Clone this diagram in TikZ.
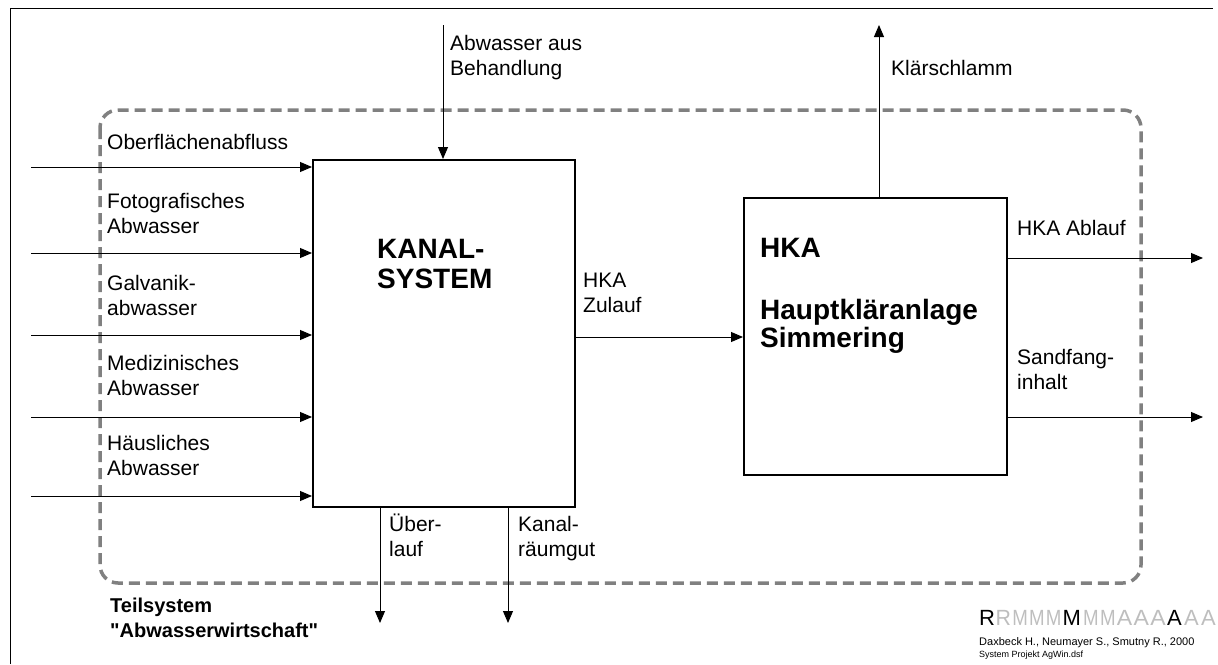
\documentclass[tikz,border=0pt]{standalone}
\usepackage{fontspec}
\setmainfont{Liberation Sans}
\usetikzlibrary{arrows.meta}
\definecolor{dashgray}{HTML}{808080}
\definecolor{logogray}{HTML}{BEBEBE}
\begin{document}
\begin{tikzpicture}[x=1pt,y=-1pt,
  procbox/.style={draw, line width=2pt, inner sep=0pt},
  flow/.style={line width=0.9pt, -{Triangle[length=12pt,width=10pt]}},
  lbl/.style={anchor=base west, inner sep=0pt, align=left, font=\fontsize{21}{24.5}\selectfont},
  boxtitle/.style={anchor=base west, inner sep=0pt, align=left, font=\fontsize{28}{30}\selectfont\bfseries},
  subsys/.style={anchor=base west, inner sep=0pt, align=left, font=\fontsize{20}{25}\selectfont\bfseries},
  logoblack/.style={anchor=base west, inner sep=0pt, font=\fontsize{22}{22}\selectfont},
  logogrey/.style={anchor=base west, inner sep=0pt, text=logogray, font=\fontsize{22}{22}\selectfont},
  credit/.style={anchor=base west, inner sep=0pt, font=\fontsize{11}{12}\selectfont},
  creditsmall/.style={anchor=base west, inner sep=0pt, font=\fontsize{9}{10}\selectfont},
  sysbound/.style={draw=dashgray, line width=3.5pt, dash pattern=on 11pt off 6pt, rounded corners=18pt}
]
\useasboundingbox (0,0) rectangle (1218,664);
% outer frame (left and top edges visible)
\draw[line width=1pt] (10,664) -- (10,8) -- (1213,8);

% system boundary
\draw[sysbound] (100,110) rectangle (1141,583);

% process boxes
\node[procbox, minimum width=262pt, minimum height=347pt] (kanal) at (444,333.5) {};
\node[procbox, minimum width=263pt, minimum height=277pt] (hka) at (875.5,336.5) {};

% (for multi-line nodes the base anchor is the baseline of the last line)
\node[boxtitle] (kanaltxt) at (377,288) {KANAL-\\SYSTEM};
\node[boxtitle, font=\fontsize{28}{28}\selectfont\bfseries] (hkatxt) at (760,347) {HKA\\[34pt]Hauptkläranlage\\Simmering};

% inputs on the left
\coordinate (in1) at (31,167);
\coordinate (in2) at (31,253);
\coordinate (in3) at (31,335);
\coordinate (in4) at (31,417);
\coordinate (in5) at (31,496);
\draw[flow] (in1) -- (in1 -| kanal.west);
\draw[flow] (in2) -- (in2 -| kanal.west);
\draw[flow] (in3) -- (in3 -| kanal.west);
\draw[flow] (in4) -- (in4 -| kanal.west);
\draw[flow] (in5) -- (in5 -| kanal.west);

\node[lbl] (l1) at (107,149) {Oberflächenabfluss};
\node[lbl] (l2) at (107,233) {Fotografisches\\Abwasser};
\node[lbl] (l3) at (107,315) {Galvanik-\\abwasser};
\node[lbl] (l4) at (107,395) {Medizinisches\\Abwasser};
\node[lbl] (l5) at (107,475) {Häusliches\\Abwasser};

% input from top
\coordinate (topin) at (443,25);
\draw[flow] (topin) -- (topin |- kanal.north);
\node[lbl] (l6) at (450,75) {Abwasser aus\\Behandlung};

% Kanal -> HKA
\coordinate (zl) at (600,337);
\draw[flow] (zl -| kanal.east) -- (zl -| hka.west);
\node[lbl] (l7) at (583,312) {HKA\\Zulauf};

% outputs at the bottom of Kanal
\coordinate (ueb) at (380,623);
\coordinate (kr) at (508,623);
\draw[flow] (ueb |- kanal.south) -- (ueb);
\draw[flow] (kr |- kanal.south) -- (kr);
\node[lbl] (l8) at (389,556) {Über-\\lauf};
\node[lbl] (l9) at (518,556) {Kanal-\\räumgut};

% outputs of HKA
\coordinate (ks) at (879,25);
\draw[flow] (ks |- hka.north) -- (ks);
\node[lbl] (l10) at (891,75) {Klärschlamm};

\coordinate (abl) at (1203,258);
\coordinate (sf) at (1203,417);
\draw[flow] (abl -| hka.east) -- (abl);
\draw[flow] (sf -| hka.east) -- (sf);
\node[lbl] (l11) at (1017,235) {HKA Ablauf};
\node[lbl] (l12) at (1017,389) {Sandfang-\\inhalt};

% subsystem caption
\node[subsys] (caption) at (110,637) {Teilsystem\\\textquotedbl Abwasserwirtschaft\textquotedbl};

% logo and credits
\begin{scope}
\clip (0,0) rectangle (1218,664);
\node[logoblack] (lr) at (979,625) {R};
\node[logogrey] (g1) at (995.5,625) {\scalebox{0.97}[1]{R}};
\node[logogrey] (g2) at (1012.2,625) {\scalebox{0.85}[1]{M}};
\node[logogrey] (g3) at (1028.9,625) {\scalebox{0.85}[1]{M}};
\node[logogrey] (g4) at (1045.6,625) {\scalebox{0.85}[1]{M}};
\node[logoblack] (lm) at (1062.3,625) {M};
\node[logogrey] (g5) at (1083,625) {\scalebox{0.85}[1]{M}};
\node[logogrey] (g6) at (1099.8,625) {\scalebox{0.85}[1]{M}};
\node[logogrey] (g7) at (1116.6,625) {\scalebox{1.05}[1]{A}};
\node[logogrey] (g8) at (1133.4,625) {\scalebox{1.05}[1]{A}};
\node[logogrey] (g9) at (1150.2,625) {\scalebox{1.05}[1]{A}};
\node[logoblack] (la) at (1167,625) {A};
\node[logogrey] (g10) at (1184,625) {A};
\node[logogrey] (g11) at (1201,625) {A};
\end{scope}
\node[credit] (cr1) at (979,645) {Daxbeck H., Neumayer S., Smutny R., 2000};
\node[creditsmall] (cr2) at (979,657) {System Projekt AgWin.dsf};
\end{tikzpicture}
\end{document}
